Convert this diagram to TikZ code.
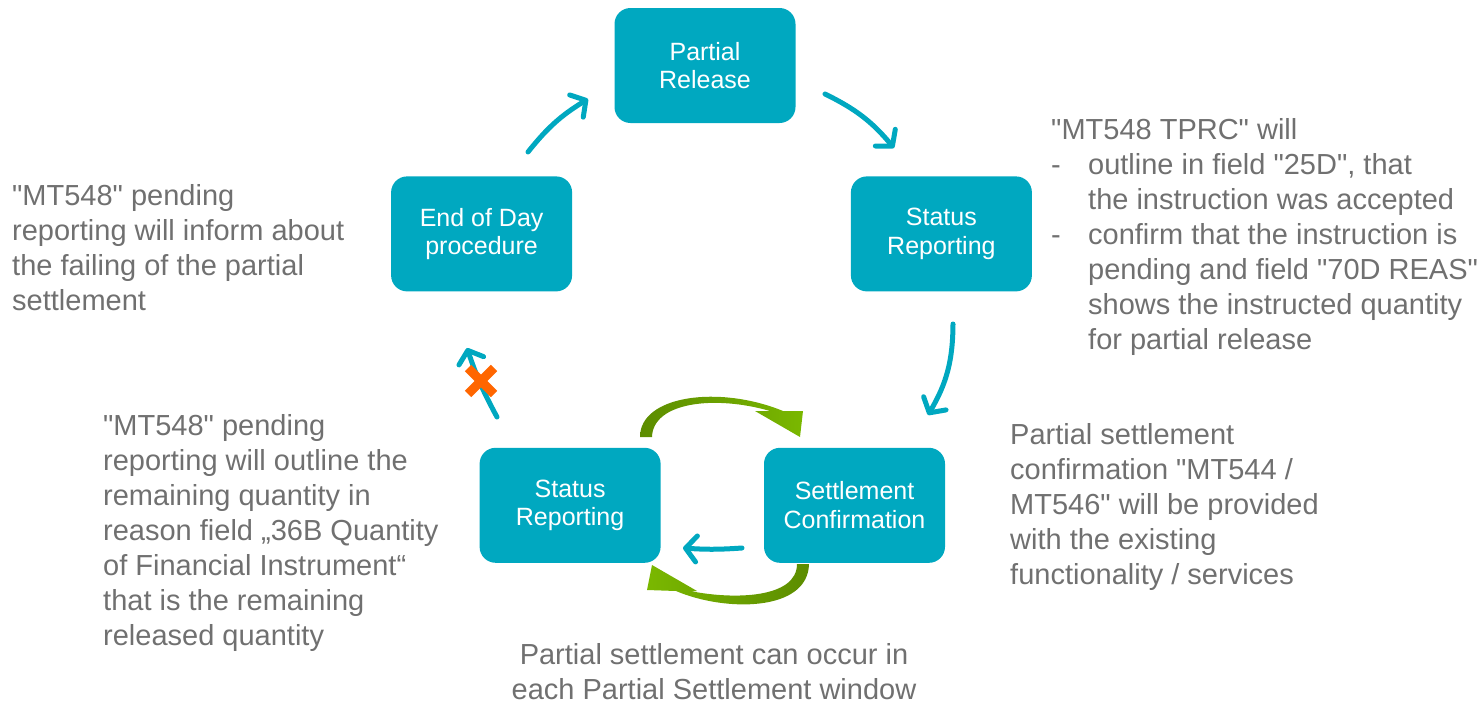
\documentclass[tikz,border=0pt]{standalone}
\usepackage{fontspec}
\setmainfont{Liberation Sans}[Ligatures=TeXOff]
\usetikzlibrary{positioning,arrows.meta}
\definecolor{tealbox}{RGB}{0,168,192}
\definecolor{txtgray}{RGB}{112,112,112}
\definecolor{greenl}{RGB}{122,184,0}
\definecolor{greend}{RGB}{92,140,0}
\definecolor{crossor}{RGB}{255,102,0}

\begin{document}
\begin{tikzpicture}[x=1pt, y=-1pt,
  box/.style={fill=tealbox, text=white, rounded corners=16pt, minimum width=181pt, minimum height=115pt, align=center, font=\fontsize{25}{28.5}\selectfont},
  note/.style={text=txtgray, align=left, inner sep=0pt, anchor=north west, font=\fontsize{29}{35}\selectfont},
  flow/.style={draw=tealbox, line width=5pt, line cap=round, -{Straight Barb[round, length=11pt, width=26pt]}}]
\useasboundingbox (0,0) rectangle (1484,704);

% the cycle
\node (PR) [box] at (705,65.5) {Partial\\Release};
\node (SR1) [box, below right=53pt and 55pt of PR] {Status\\Reporting};
\node (EOD) [box, below left=53pt and 42pt of PR] {End of Day\\procedure};
\node (SR2) [box, below=156pt of EOD, xshift=88.5pt] {Status\\Reporting};
\node (SC) [box, right=103pt of SR2] {Settlement\\Confirmation};

% arrow ends
\coordinate (E1a) at (528,152);
\coordinate (E1b) at (588,99);
\coordinate (E2a) at (825,94);
\coordinate (E2b) at (894,148);
\coordinate (E3a) at (953,324);
\coordinate (E3b) at (928,415);
\coordinate (E4a) at (742,548);
\coordinate (E4b) at (683,548);
\coordinate (E5a) at (497,417);
\coordinate (E5b) at (467,348);
\coordinate (X) at (481,381);

\draw [flow] (E1a) to[bend left=10] (E1b);
\draw [flow] (E2a) to[bend left=12] (E2b);
\draw [flow] (E3a) to[bend left=15] (E3b);
\draw [flow] (E4a) to[bend left=4] (E4b);
\draw [flow] (E5a) to[bend left=5] (E5b);

% failed step
\draw [crossor, line width=9pt] (X) ++(-13,-13) -- ++(26,26);
\draw [crossor, line width=9pt] (X) ++(13,-13) -- ++(-26,26);

% partial settlement loop
\shade [left color=greend, middle color=greenl, right color=greenl]
  (640,437) .. controls (640,395) and (720,385) .. (783,411) -- (803,411) -- (800,437)
  -- (755,411) -- (770,411) .. controls (715,395) and (653,402) .. (652,437) -- cycle;
\shade [left color=greenl, middle color=greenl, right color=greend]
  (809,564) .. controls (808,612) and (725,612) .. (676,591) -- (647,590) -- (652,565)
  -- (697,591) -- (690,591) .. controls (735,600) and (797,598) .. (797,564) -- cycle;

% notes
\node (N1) [note] at (12,184) {"MT548" pending\\reporting will inform about\\the failing of the partial\\settlement};
\node (N2) [note] at (103,414) {"MT548" pending\\reporting will outline the\\remaining quantity in\\reason field „36B Quantity\\of Financial Instrument“\\that is the remaining\\released quantity};
\node (N3) [note] at (1051,118) {"MT548 TPRC" will\\
  \makebox[37pt][l]{-}outline in field "25D", that\\
  \hspace*{37pt}the instruction was accepted\\
  \makebox[37pt][l]{-}confirm that the instruction is\\
  \hspace*{37pt}pending and field "70D REAS"\\
  \hspace*{37pt}shows the instructed quantity\\
  \hspace*{37pt}for partial release};
\node (N4) [note] at (1010,423) {Partial settlement\\confirmation "MT544 /\\MT546" will be provided\\with the existing\\functionality / services};
\node (N5) [note, anchor=north, align=center] at (714,643) {Partial settlement can occur in\\each Partial Settlement window};
\end{tikzpicture}
\end{document}
